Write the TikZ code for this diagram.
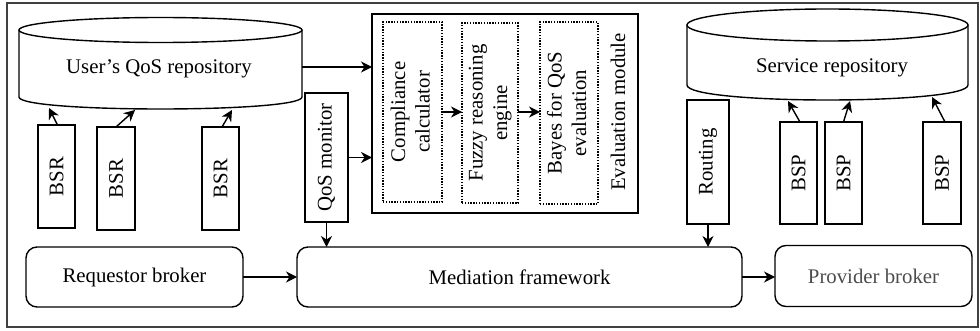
\documentclass[tikz,border=0pt]{standalone}
\usepackage{fontspec}
\setmainfont{Liberation Serif}
\usepackage{graphicx}
\usetikzlibrary{arrows.meta}
\begin{document}
\begin{tikzpicture}[x=1pt,y=-1pt,
  font=\fontsize{20.8}{24.5}\selectfont,
  every node/.style={inner sep=0pt, outer sep=0pt},
  line/.style={line width=1.4pt},
  arr/.style={line width=1.4pt, -{Stealth[length=11pt,width=11pt,inset=3.5pt]}},
  vbox/.style={draw, line width=1.4pt, align=center},
  dbox/.style={draw, line width=1.3pt, dash pattern=on 1.4pt off 1.4pt, align=center},
  rbox/.style={draw, line width=1.4pt, rounded corners=11pt, align=center},
]
\useasboundingbox (0,0) rectangle (980,331);
\draw[line width=1.1pt, black!75] (7,3) rectangle (978,327);

% User's QoS repository cylinder
\draw[line] (19,30) -- (19,97) .. controls (19,113) and (302,113) .. (302,97) -- (302,30);
\draw[line] (160.5,30) ellipse [x radius=141.5, y radius=12.5];
\node (uqr) at (159,69) {User's QoS repository};
\coordinate (uqrE) at (302,67);

% Service repository cylinder
\draw[line] (687,25) -- (687,85) .. controls (687,105) and (968,105) .. (968,85) -- (968,25);
\draw[line] (827.5,25) ellipse [x radius=140.5, y radius=16];
\node (srv) at (832,68) {Service repository};

% BSR boxes
\node[vbox, minimum width=37pt, minimum height=103pt] (bsr1) at (56.5,176.5) {\rotatebox{90}{BSR}};
\node[vbox, minimum width=38pt, minimum height=103pt] (bsr2) at (116,178.5) {\rotatebox{90}{BSR}};
\node[vbox, minimum width=37pt, minimum height=103pt] (bsr3) at (220.5,178.5) {\rotatebox{90}{BSR}};
\coordinate (u1) at (49,108);
\coordinate (u2) at (135,110);
\coordinate (u3) at (232,110);
\draw[arr] ([xshift=1pt]bsr1.north) -- (u1);
\draw[arr] (bsr2.north) -- (u2);
\draw[arr] ([xshift=1.5pt]bsr3.north) -- (u3);

% QoS monitor
\node[vbox, minimum width=43pt, minimum height=129pt] (qos) at (326.5,157.5) {\rotatebox{90}{QoS monitor}};

% Evaluation module
\node[vbox, minimum width=266pt, minimum height=199pt] (eval) at (505,113.5) {};
\node[dbox, minimum width=59pt, minimum height=180pt] (comp) at (412.5,112) {\rotatebox{90}{\begin{tabular}{@{}c@{}}Compliance\\calculator\end{tabular}}};
\node[dbox, minimum width=56pt, minimum height=180pt] (fuzzy) at (490,113) {\rotatebox{90}{\begin{tabular}{@{}c@{}}Fuzzy reasoning\\engine\end{tabular}}};
\node[dbox, minimum width=58pt, minimum height=182pt] (bayes) at (569,113) {\rotatebox{90}{\begin{tabular}{@{}c@{}}Bayes for QoS\\evaluation\end{tabular}}};
\node (evallbl) at (618,112) {\rotatebox{90}{Evaluation module}};
\draw[arr] (comp.east) -- (fuzzy.west |- comp.east);
\draw[arr] (fuzzy.east |- comp.east) -- (bayes.west |- comp.east);

% Routing and BSP
\node[vbox, minimum width=42pt, minimum height=124pt] (rout) at (708,162) {\rotatebox{90}{Routing}};
\node[vbox, minimum width=37pt, minimum height=102pt] (bsp1) at (798.5,173) {\rotatebox{90}{BSP}};
\node[vbox, minimum width=37pt, minimum height=102pt] (bsp2) at (843.5,173) {\rotatebox{90}{BSP}};
\node[vbox, minimum width=38pt, minimum height=102pt] (bsp3) at (942,173) {\rotatebox{90}{BSP}};
\coordinate (s1) at (788,101);
\coordinate (s2) at (850,101);
\coordinate (s3) at (932,97);
\draw[arr] ([xshift=1.5pt]bsp1.north) -- (s1);
\draw[arr] (bsp2.north) -- (s2);
\draw[arr] ([xshift=3pt]bsp3.north) -- (s3);

% Bottom row
\node[rbox, minimum width=217pt, minimum height=60pt] (req) at (134.5,277) {Requestor broker};
\node[rbox, minimum width=445pt, minimum height=60pt] (med) at (519.5,277) {Mediation framework};
\node[rbox, minimum width=197pt, minimum height=61pt, text=black!70] (prov) at (873.5,276) {Provider broker};

% Connectors
\draw[arr] (uqrE) -- (eval.west |- uqrE);
\draw[arr] (qos.east) -- (eval.west |- qos.east);
\draw[arr] (qos.south) -- (qos.south |- med.north);
\draw[arr] (rout.south) -- (rout.south |- med.north);
\draw[arr] (req.east) -- (med.west);
\draw[arr] (med.east) -- (prov.west |- med.east);
\end{tikzpicture}
\end{document}
